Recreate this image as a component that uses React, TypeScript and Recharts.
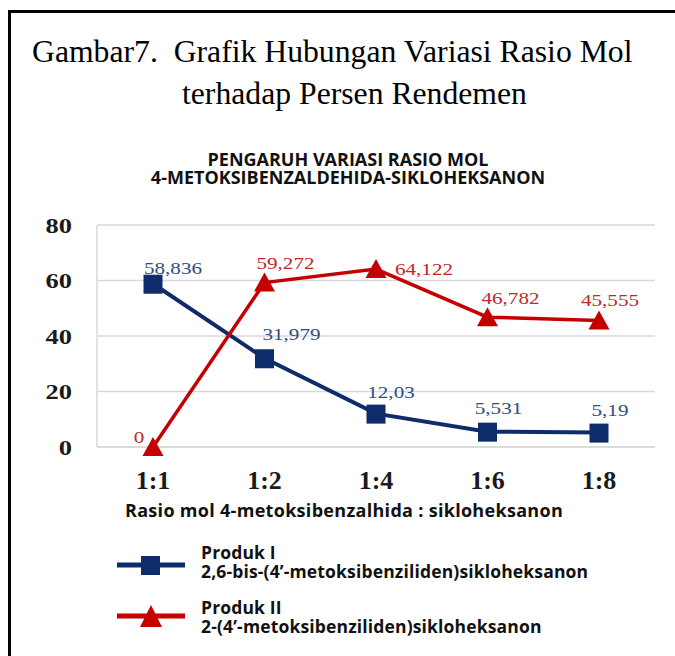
import React from 'react';
import { LineChart, Line, XAxis, YAxis, CartesianGrid, LabelList } from 'recharts';

const categories = ['1:1', '1:2', '1:4', '1:6', '1:8'];
const produkI = [58.836, 31.979, 12.03, 5.531, 5.19];
const produkII = [0, 59.272, 64.122, 46.782, 45.555];
const yTicks = [0, 20, 40, 60, 80];

const seriesNames = ['Produk I', 'Produk II'];
const seriesSubNames = [
  '2,6-bis-(4\u2019-metoksibenziliden)sikloheksanon',
  '2-(4\u2019-metoksibenziliden)sikloheksanon',
];

const data = categories.map((c, i) => ({ ratio: c, p1: produkI[i], p2: produkII[i] }));

const BLUE = '#0e2c6c';
const RED = '#c40000';
const BLUE_LABEL = '#2e4d85';
const RED_LABEL = '#c2262c';
const SERIF = '"Liberation Serif", "Times New Roman", serif';
const SANS = '"Open Sans", "Noto Sans", sans-serif';

// label offsets (styling only)
const blueOffsets = [[20, -15], [27, -24], [15, -21], [11, -23], [11, -22]];
const redOffsets = [[-14, -10], [21, -19], [48, 0], [23, -19], [11, -20]];

const fmt = (v: number) => String(v).replace('.', ',');

const makeLabel = (offsets: number[][], color: string) => (props: any) => {
  const vb = props.viewBox || {};
  const x = props.x ?? vb.x;
  const y = props.y ?? vb.y;
  const i = props.index ?? 0;
  const [dx, dy] = offsets[i] || [0, -18];
  return (
    <text
      transform={`translate(${x + dx},${y + dy}) scale(1.28,1)`}
      x={0}
      y={0}
      textAnchor="middle"
      dominantBaseline="central"
      fontFamily={SERIF}
      fontSize={16.5}
      fill={color}
    >
      {fmt(props.value)}
    </text>
  );
};

const YTick = (props: any) => {
  const { x, y, payload } = props;
  return (
    <text
      transform={`translate(${x},${y}) scale(1.2,1)`}
      x={0}
      y={0}
      textAnchor="end"
      dominantBaseline="central"
      fontFamily={SERIF}
      fontWeight={700}
      fontSize={22}
      fill="#1a1a1a"
    >
      {payload.value}
    </text>
  );
};

const SquareDot = (props: any) => {
  const { cx, cy } = props;
  if (cx == null || cy == null) return null;
  return <rect x={cx - 9.5} y={cy - 9} width={19} height={19} fill={BLUE} />;
};

const TriangleDot = (props: any) => {
  const { cx, cy } = props;
  if (cx == null || cy == null) return null;
  return <polygon points={`${cx},${cy - 10} ${cx - 10.5},${cy + 9} ${cx + 10.5},${cy + 9}`} fill={RED} />;
};

export default function App() {
  return (
    <div
      style={{
        position: 'absolute',
        left: 0,
        top: 0,
        width: 675,
        height: 656,
        overflow: 'hidden',
        background: '#fff',
      }}
    >
      <div
        style={{
          position: 'absolute',
          left: 8,
          top: 10,
          width: 720,
          height: 720,
          border: '3px solid #000',
          boxSizing: 'border-box',
        }}
      />
      <div
        style={{
          position: 'absolute',
          left: 32,
          top: 36,
          fontFamily: SERIF,
          fontSize: 31.7,
          lineHeight: '32px',
          whiteSpace: 'pre',
          color: '#000',
        }}
      >
        {'Gambar7.  Grafik Hubungan Variasi Rasio Mol'}
      </div>
      <div
        style={{
          position: 'absolute',
          left: 182,
          top: 78,
          fontFamily: SERIF,
          fontSize: 31.7,
          lineHeight: '32px',
          whiteSpace: 'pre',
          color: '#000',
        }}
      >
        {'terhadap Persen Rendemen'}
      </div>
      <div
        style={{
          position: 'absolute',
          left: 148,
          top: 150,
          width: 400,
          textAlign: 'center',
          fontFamily: SANS,
          fontWeight: 700,
          fontSize: 18,
          lineHeight: '18px',
          color: '#111',
          whiteSpace: 'nowrap',
        }}
      >
        <div>PENGARUH VARIASI RASIO MOL</div>
        <div>4-METOKSIBENZALDEHIDA-SIKLOHEKSANON</div>
      </div>

      <div style={{ position: 'absolute', left: 0, top: 0 }}>
        <LineChart
          width={675}
          height={656}
          data={data}
          margin={{ top: 225, right: 20, bottom: 149, left: 0 }}
        >
          <CartesianGrid vertical={false} stroke="#d9d9d9" strokeWidth={1.5} />
          <XAxis
            dataKey="ratio"
            height={60}
            padding={{ left: 56, right: 56 }}
            tickLine={false}
            tickSize={0}
            tickMargin={24}
            axisLine={{ stroke: '#d9d9d9', strokeWidth: 1.5 }}
            tick={{ fontFamily: SERIF, fontWeight: 700, fontSize: 26, fill: '#1a1a1a' }}
            interval={0}
          />
          <YAxis
            width={97}
            domain={[0, 80]}
            ticks={yTicks}
            tickLine={false}
            tickSize={0}
            tickMargin={25}
            axisLine={{ stroke: '#d9d9d9', strokeWidth: 1.5 }}
            tick={<YTick />}
          />
          <Line
            dataKey="p1"
            stroke={BLUE}
            strokeWidth={4}
            dot={<SquareDot />}
            activeDot={false}
            isAnimationActive={false}
          >
            <LabelList dataKey="p1" content={makeLabel(blueOffsets, BLUE_LABEL)} />
          </Line>
          <Line
            dataKey="p2"
            stroke={RED}
            strokeWidth={3.5}
            dot={<TriangleDot />}
            activeDot={false}
            isAnimationActive={false}
          >
            <LabelList dataKey="p2" content={makeLabel(redOffsets, RED_LABEL)} />
          </Line>
        </LineChart>
      </div>

      <div
        style={{
          position: 'absolute',
          left: 125,
          top: 500,
          fontFamily: SANS,
          fontWeight: 700,
          fontSize: 18,
          lineHeight: '20px',
          letterSpacing: 0.3,
          color: '#111',
          whiteSpace: 'pre',
        }}
      >
        Rasio mol 4-metoksibenzalhida : sikloheksanon
      </div>

      {[0, 1].map((k) => (
        <React.Fragment key={k}>
          <svg
            width={72}
            height={40}
            style={{ position: 'absolute', left: 116, top: k === 0 ? 545 : 596 }}
          >
            <line x1={1} y1={20} x2={69} y2={20} stroke={k === 0 ? BLUE : RED} strokeWidth={5} />
            {k === 0 ? (
              <rect x={25} y={11} width={19} height={19} fill={BLUE} />
            ) : (
              <polygon points="35,9 24,31 46,31" fill={RED} />
            )}
          </svg>
          <div
            style={{
              position: 'absolute',
              left: 201,
              top: k === 0 ? 543 : 598,
              whiteSpace: 'pre',
              fontFamily: SANS,
              fontWeight: 700,
              fontSize: 17.5,
              lineHeight: '19px',
              letterSpacing: 0.15,
              color: '#111',
            }}
          >
            <div>{seriesNames[k]}</div>
            <div>{seriesSubNames[k]}</div>
          </div>
        </React.Fragment>
      ))}
    </div>
  );
}
